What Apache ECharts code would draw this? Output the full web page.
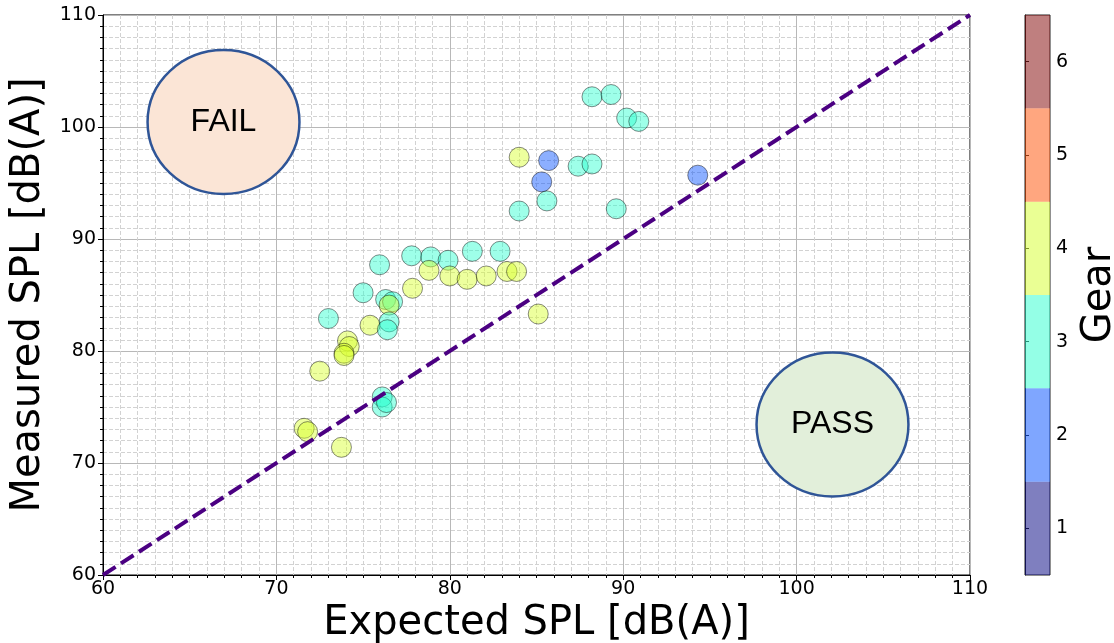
<!DOCTYPE html>
<html>
<head>
<meta charset="utf-8">
<script src="https://cdn.jsdelivr.net/npm/echarts@6/dist/echarts.min.js"></script>
<style>html,body{margin:0;padding:0;background:#fff}#c{width:1114px;height:643px}</style>
</head>
<body>
<div id="c"></div>
<script>
// ---- data ----
const expectedSPL = [71.6, 71.8, 73.75, 72.5, 73.0, 74.1, 74.2, 73.9, 73.9, 75.0, 75.4, 75.95, 76.3, 76.7, 76.5, 76.5, 76.4, 76.1, 76.1, 76.35, 77.85, 77.8, 78.9, 78.8, 79.9, 80.0, 81.0, 81.3, 82.1, 82.9, 83.3, 83.85, 85.1, 88.2, 89.3, 90.2, 90.9, 84.0, 85.7, 85.3, 85.6, 84.0, 87.4, 88.2, 89.6, 94.3];
const measuredSPL = [73.1, 72.8, 71.4, 78.2, 82.9, 80.9, 80.4, 79.8, 79.6, 85.2, 82.3, 87.7, 84.6, 84.4, 84.1, 82.6, 81.9, 75.9, 75.0, 75.4, 85.6, 88.5, 88.4, 87.2, 88.1, 86.7, 86.4, 88.9, 86.7, 88.9, 87.1, 87.1, 83.3, 102.7, 102.9, 100.8, 100.5, 97.3, 97.0, 95.1, 93.4, 92.5, 96.5, 96.7, 92.7, 95.7];
const gear = [4, 4, 4, 4, 3, 4, 4, 4, 4, 3, 4, 3, 3, 3, 4, 3, 3, 3, 3, 3, 4, 3, 3, 4, 3, 4, 4, 3, 4, 3, 4, 4, 4, 3, 3, 3, 3, 4, 2, 2, 3, 3, 3, 3, 3, 2];
const gearLevels = [1, 2, 3, 4, 5, 6];
const axisTicks = [60, 70, 80, 90, 100, 110];
const diagonal = [[60, 60], [110, 110]];
const zoneLabels = ['FAIL', 'PASS'];
const zoneCenters = [[66.95, 100.45], [102.07, 73.44]];
const zoneRadii = [[4.38, 6.43], [4.38, 6.43]];

// ---- styles ----
const jet = ['0,0,128', '0,77,255', '41,255,206', '214,255,41', '255,77,0', '128,0,0'];
const zoneFill = ['#fbe5d6', '#e2efda'];
const FONT = 'DejaVu Sans';

const points = expectedSPL.map((x, i) => [x, measuredSPL[i], gear[i]]);

const chart = echarts.init(document.getElementById('c'), null, {renderer: 'canvas'});
const tickLabel = {fontFamily: FONT, fontSize: 19, color: '#000'};

chart.setOption({
  animation: false,
  backgroundColor: '#fff',
  grid: [
    {left: 103, right: 144, top: 15, bottom: 68, show: true, borderColor: '#000', borderWidth: 1, backgroundColor: 'transparent', containLabel: false, outerBoundsMode: 'none'},
    {left: 1025, width: 25, top: 15, bottom: 68, show: true, borderColor: '#222', borderWidth: 1, backgroundColor: 'transparent', containLabel: false, outerBoundsMode: 'none'}
  ],
  xAxis: [
    {
      type: 'value', gridIndex: 0, min: axisTicks[0], max: axisTicks[axisTicks.length - 1], interval: 10,
      name: 'Expected SPL [dB(A)]', nameLocation: 'middle', nameGap: 24,
      nameTextStyle: {fontFamily: FONT, fontSize: 40, color: '#000'},
      axisLine: {onZero: false, lineStyle: {color: '#000', width: 1}},
      axisTick: {show: true, length: 5, lineStyle: {color: '#000'}},
      minorTick: {show: true, splitNumber: 10, length: 3, lineStyle: {color: '#000'}},
      axisLabel: Object.assign({margin: 5}, tickLabel),
      splitLine: {show: true, lineStyle: {color: '#b8b8b8', width: 1}},
      minorSplitLine: {show: true, lineStyle: {color: '#d2d2d2', width: 1, type: [4, 2]}}
    },
    {type: 'value', gridIndex: 1, min: 0, max: 1, show: false}
  ],
  yAxis: [
    {
      type: 'value', gridIndex: 0, min: axisTicks[0], max: axisTicks[axisTicks.length - 1], interval: 10,
      name: 'Measured SPL [dB(A)]', nameLocation: 'middle', nameGap: 48,
      nameTextStyle: {fontFamily: FONT, fontSize: 40, color: '#000'},
      axisLine: {onZero: false, lineStyle: {color: '#000', width: 1}},
      axisTick: {show: true, length: 5, lineStyle: {color: '#000'}},
      minorTick: {show: true, splitNumber: 10, length: 3, lineStyle: {color: '#000'}},
      axisLabel: Object.assign({margin: 7}, tickLabel),
      splitLine: {show: true, lineStyle: {color: '#b8b8b8', width: 1}},
      minorSplitLine: {show: true, lineStyle: {color: '#d2d2d2', width: 1, type: [4, 2]}}
    },
    {
      type: 'category', gridIndex: 1, position: 'right', data: gearLevels.map(String),
      boundaryGap: true,
      name: 'Gear', nameLocation: 'middle', nameGap: 30, nameRotate: 90,
      nameTextStyle: {fontFamily: FONT, fontSize: 40, color: '#000'},
      axisLine: {show: true, lineStyle: {color: '#222'}},
      axisTick: {show: true, alignWithLabel: true, length: 4, lineStyle: {color: '#222'}},
      axisLabel: Object.assign({margin: 6}, tickLabel),
      splitLine: {show: false}
    }
  ],
  series: [
    {
      type: 'custom', xAxisIndex: 0, yAxisIndex: 0, z: 2, silent: true,
      data: zoneCenters.map((c, i) => [c[0], c[1], zoneRadii[i][0], zoneRadii[i][1], i]),
      renderItem: function (params, api) {
        const c = api.coord([api.value(0), api.value(1)]);
        const s = api.size([api.value(2), api.value(3)]);
        const i = api.value(4);
        return {
          type: 'group',
          children: [
            {type: 'ellipse', shape: {cx: c[0], cy: c[1], rx: s[0], ry: s[1]},
             style: {fill: zoneFill[i], stroke: '#2f5597', lineWidth: 2.5}},
            {type: 'text', x: c[0], y: c[1],
             style: {text: zoneLabels[i], fontFamily: 'Liberation Sans', fontSize: 32, fill: '#000', align: 'center', verticalAlign: 'middle'}}
          ]
        };
      }
    },
    {
      type: 'scatter', xAxisIndex: 0, yAxisIndex: 0, z: 3,
      data: points, symbol: 'circle', symbolSize: 20,
      itemStyle: {
        color: function (p) { return 'rgba(' + jet[p.data[2] - 1] + ',0.45)'; },
        borderColor: 'rgba(0,0,0,0.45)', borderWidth: 1, opacity: 1
      }
    },
    {
      type: 'line', xAxisIndex: 0, yAxisIndex: 0, z: 4, data: diagonal,
      symbol: 'none', lineStyle: {color: '#4b0082', width: 4, type: [15, 6.4]}
    },
    {
      type: 'bar', xAxisIndex: 1, yAxisIndex: 1, barWidth: '100%', barCategoryGap: '0%',
      data: gearLevels.map((g, i) => ({value: 1, itemStyle: {color: 'rgba(' + jet[i] + ',0.5)'}}))
    }
  ]
});
</script>
</body>
</html>
